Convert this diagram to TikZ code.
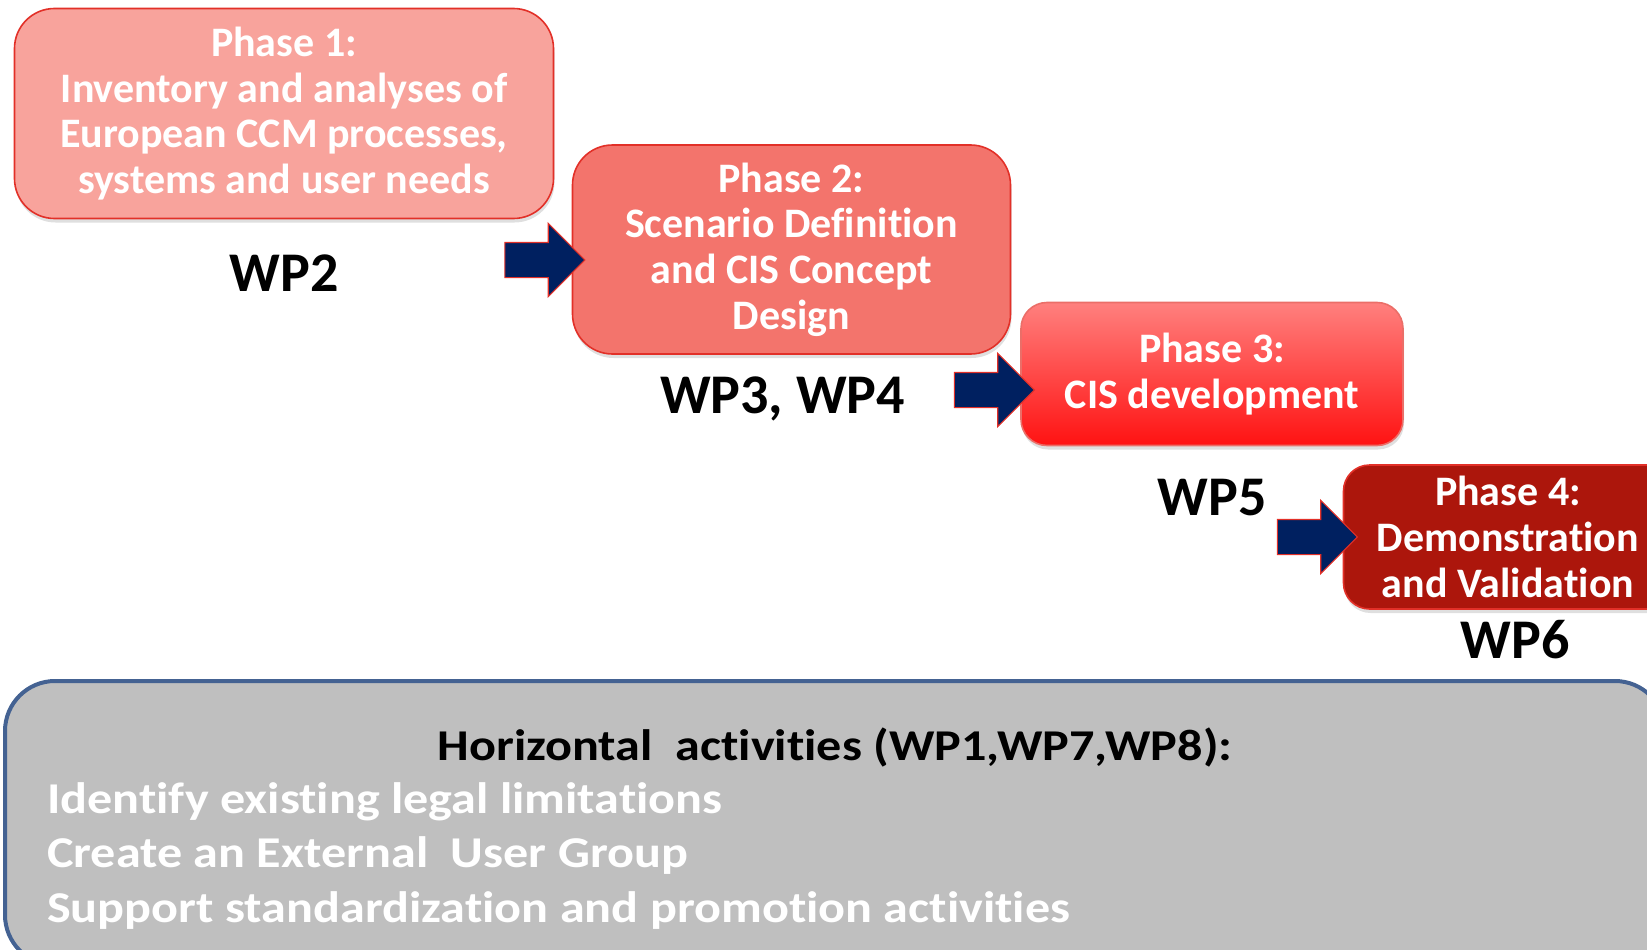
\documentclass[tikz,border=0pt]{standalone}
\usepackage{fontspec}
\setmainfont[Ligatures=NoCommon]{Carlito}
\newfontfamily\hzfont[Ligatures=NoCommon,FakeStretch=1.14]{Carlito}
\usepackage{tikz}
\usetikzlibrary{positioning,shapes.arrows,shadows}
\definecolor{phaseone}{RGB}{248,163,156}
\definecolor{phasetwo}{RGB}{243,116,108}
\definecolor{phasethreetop}{RGB}{255,128,126}
\definecolor{phasethreebot}{RGB}{255,18,18}
\definecolor{phasefour}{RGB}{172,22,12}
\definecolor{boxline}{RGB}{226,48,40}
\definecolor{navyarrow}{RGB}{0,32,96}
\definecolor{hzfill}{RGB}{191,191,191}
\definecolor{hzline}{RGB}{68,98,146}
\tikzset{
  phasebox/.style={
    rounded corners=40pt,
    draw=boxline, line width=1.6pt,
    text=white, align=center,
    font=\bfseries\fontsize{42}{45.7}\selectfont,
    drop shadow={shadow xshift=1pt, shadow yshift=-4pt, opacity=0.25}
  },
  wplabel/.style={
    font=\bfseries\fontsize{56}{60}\selectfont
  },
  blockarrow/.style={
    single arrow, draw=boxline, line width=1.2pt, fill=navyarrow,
    minimum height=80pt, minimum width=72pt, inner sep=0pt,
    text height=17pt, text depth=17pt, text width=0pt,
    single arrow head extend=19pt, single arrow tip angle=90,
    anchor=tip
  }
}

\begin{document}
\begin{tikzpicture}[x=1pt,y=-1pt]
  \useasboundingbox (0,0) rectangle (1647,950);
  \clip (0,0) rectangle (1647,950);
  % phases
  \node[phasebox, fill=phaseone, minimum width=539pt, minimum height=210pt]
    (p1) at (284,113.5) {Phase 1:\\Inventory and analyses of\\European CCM processes,\\systems and user needs};
  \node[phasebox, fill=phasetwo, minimum width=438pt, minimum height=209pt]
    (p2) at (791.5,249.5) {Phase 2:\\Scenario Definition\\and CIS Concept\\Design};
  \node[phasebox, rounded corners=26pt, top color=phasethreetop,
    bottom color=phasethreebot, draw=boxline!70, minimum width=382pt,
    minimum height=143pt] (p3) at (1212,374) {Phase 3:\\CIS development};
  \node[phasebox, rounded corners=26pt, fill=phasefour, minimum width=329pt,
    minimum height=144pt] (p4) at (1508,537) {Phase 4:\\Demonstration\\and Validation};
  % work packages
  \node[wplabel, on grid, below=159.5pt of p1] (wp2) {WP2};
  \node[wplabel, on grid, below left=149.5pt and 9pt of p2] (wp34) {WP3, WP4};
  \node[wplabel, on grid, below=124pt of p3] (wp5) {WP5};
  \node[wplabel, on grid, below right=103pt and 7pt of p4] (wp6) {WP6};
  % arrows
  \node[blockarrow] (a12) at ([xshift=14pt,yshift=-10.5pt]p2.west) {};
  \node[blockarrow] (a23) at ([xshift=15pt,yshift=-16pt]p3.west) {};
  \node[blockarrow] (a34) at ([xshift=15.5pt]p4.west) {};
  % horizontal activities
  \node[draw=hzline, line width=4pt, fill=hzfill, rounded corners=50pt,
    minimum width=1660pt, minimum height=284pt] (hz) at (835,823) {};
  \node[font=\hzfont\bfseries\fontsize{44}{54.6}\selectfont] (hzt) at (835,747)
    {Horizontal\ \ activities (WP1,WP7,WP8):};
  \node[anchor=west, align=left, text=white, inner sep=0pt,
    font=\hzfont\bfseries\fontsize{44}{54.6}\selectfont] (hzl) at (47,856)
    {Identify existing legal limitations\\Create an External\ \ User Group\\Support standardization and promotion activities};
\end{tikzpicture}
\end{document}
